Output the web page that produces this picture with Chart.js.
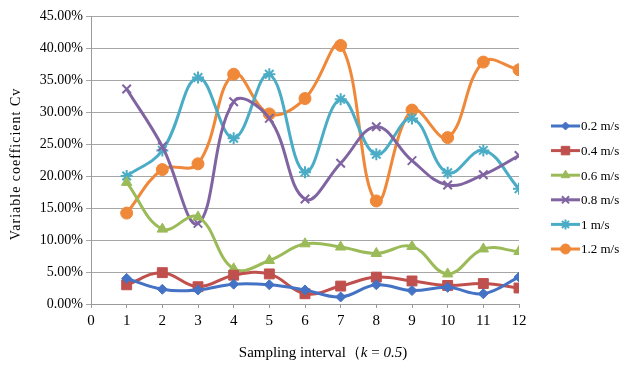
<!DOCTYPE html>
<html><head><meta charset="utf-8">
<script src="https://cdn.jsdelivr.net/npm/chart.js@4"></script>
<style>html,body{margin:0;padding:0;background:#fff}#w{width:622px;height:365px;position:relative}</style>
</head><body><div id="w"><canvas id="c"></canvas></div>
<script>
const categories = [1,2,3,4,5,6,7,8,9,10,11,12];
const seriesNames = ['0.2 m/s','0.4 m/s','0.6 m/s','0.8 m/s','1 m/s','1.2 m/s'];
const v02 = [4.0,2.3,2.2,3.1,3.0,2.2,1.1,3.0,2.1,2.6,1.6,4.2];
const v04 = [3.0,4.9,2.7,4.5,4.7,1.6,2.8,4.2,3.6,2.9,3.2,2.5];
const v06 = [19.0,11.7,13.6,5.5,6.8,9.4,8.9,7.9,9.0,4.7,8.6,8.2];
const v08 = [33.6,24.6,12.6,31.6,29.0,16.4,22.0,27.7,22.4,18.6,20.2,23.2];
const v10 = [20.0,24.0,35.4,25.9,35.9,20.6,32.0,23.4,29.0,20.5,24.0,18.0];
const v12 = [14.2,21.0,21.9,35.9,29.7,32.1,40.4,16.1,30.3,26.0,37.8,36.6];
const yTicks = [0,5,10,15,20,25,30,35,40,45];
const xTicks = [0,1,2,3,4,5,6,7,8,9,10,11,12];

const colors = ['#4472C4','#C0504D','#9BBB59','#8064A2','#4BACC6','#F0883A'];
const styles = [
  {ps:'rectRot', r:5, bw:1},
  {ps:'rect', r:7, bw:1},
  {ps:'triangle', r:6, bw:1},
  {ps:'crossRot', r:6, bw:2},
  {ps:'star', r:6, bw:2},
  {ps:'circle', r:6, bw:1}
];
const all = [v02,v04,v06,v08,v10,v12];
const datasets = all.map((vals,i)=>({
  label: seriesNames[i],
  data: categories.map((c,j)=>({x:c,y:vals[j]})),
  borderColor: colors[i],
  backgroundColor: colors[i],
  borderWidth: 3,
  pointStyle: styles[i].ps,
  pointRadius: styles[i].r,
  pointBorderWidth: styles[i].bw,
  tension: 0.4
}));
const SERIF = '"Liberation Serif", "DejaVu Serif", serif';

const extras = {
  id:'extras',
  afterDraw(chart){
    const ctx = chart.ctx;
    ctx.save();
    // legend
    ctx.font = '13px ' + SERIF;
    ctx.textBaseline = 'middle';
    seriesNames.forEach((n,i)=>{
      const y = 126 + i*24.6;
      ctx.strokeStyle = colors[i]; ctx.lineWidth = 3;
      ctx.beginPath(); ctx.moveTo(551,y); ctx.lineTo(580,y); ctx.stroke();
      ctx.fillStyle = colors[i]; ctx.strokeStyle = colors[i];
      ctx.lineWidth = styles[i].bw;
      Chart.helpers.drawPoint(ctx,{pointStyle:styles[i].ps, radius:styles[i].r-1, borderWidth:styles[i].bw, rotation:0}, 565.5, y);
      ctx.fillStyle = '#000';
      ctx.textAlign = 'left';
      ctx.fillText(n, 581, y+1);
    });
    // y title
    ctx.save();
    ctx.translate(16, 164);
    ctx.rotate(-Math.PI/2);
    ctx.textAlign = 'center';
    ctx.fillStyle = '#000';
    ctx.font = '14px ' + SERIF;
    try { ctx.letterSpacing = '1px'; } catch(e) {}
    ctx.fillText('Variable coefficient Cv', 0, 0);
    try { ctx.letterSpacing = '0px'; } catch(e) {}
    ctx.restore();
    // x title with italic parts
    const parts = [['Sampling interval（','normal'],['k','italic'],[' = ','normal'],['0.5','italic'],[')','normal']];
    ctx.textAlign = 'left';
    ctx.fillStyle = '#000';
    let w = 0;
    parts.forEach(p=>{ ctx.font = p[1]+' 15px '+SERIF; w += ctx.measureText(p[0]).width; });
    let x = 323 - w/2;
    parts.forEach(p=>{ ctx.font = p[1]+' 15px '+SERIF; ctx.fillText(p[0], x, 353); x += ctx.measureText(p[0]).width; });
    ctx.restore();
  }
};

new Chart(document.getElementById('c'), {
  type:'line',
  data:{datasets},
  options:{
    responsive:true, maintainAspectRatio:false, animation:false,
    layout:{padding:{left:0,right:103,top:16,bottom:0}},
    plugins:{legend:{display:false}, tooltip:{enabled:false}},
    scales:{
      x:{type:'linear', min:0, max:12,
        afterFit(s){ s.height = 61; },
        afterBuildTicks(s){ s.ticks = xTicks.map(v=>({value:v})); },
        ticks:{color:'#000', font:{family:SERIF, size:15}, padding:4},
        grid:{drawOnChartArea:false, drawTicks:true, tickLength:4, color:'#9a9a9a'},
        border:{color:'#9a9a9a', width:1}
      },
      y:{min:0, max:45,
        afterFit(s){ s.width = 91; },
        afterBuildTicks(s){ s.ticks = yTicks.map(v=>({value:v})); },
        ticks:{color:'#000', font:{family:SERIF, size:14}, padding:3, callback:v=>v.toFixed(2)+'%'},
        grid:{color:'#a6a6a6', lineWidth:1, tickLength:5},
        border:{color:'#9a9a9a', width:1}
      }
    }
  },
  plugins:[extras]
});
</script></body></html>
